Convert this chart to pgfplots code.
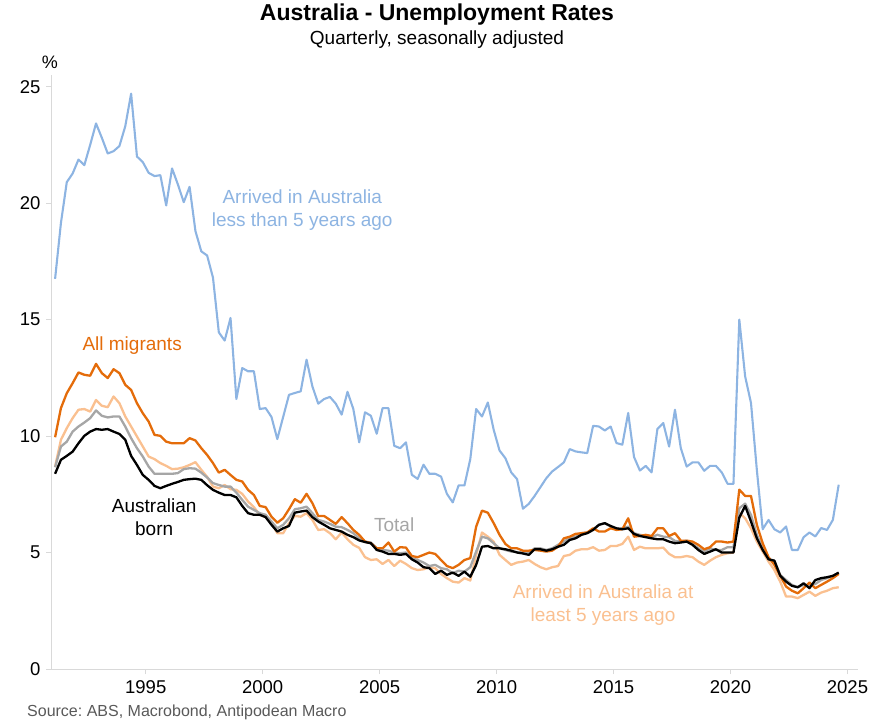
\documentclass[border=0pt]{standalone}
\usepackage{fontspec}
\setmainfont{Liberation Sans}
\usepackage{pgfplots}
\pgfplotsset{compat=1.18}
\usepackage{pgfplotstable}
\frenchspacing

\definecolor{lblue}{HTML}{8DB4E2}
\definecolor{dorange}{HTML}{E46C0A}
\definecolor{lorange}{HTML}{FAC090}
\definecolor{tgray}{HTML}{A6A6A6}
\definecolor{axgray}{HTML}{D9D9D9}
\definecolor{srcgray}{HTML}{595959}

% quarterly, seasonally adjusted unemployment rates (%)
% blue = arrived < 5 yrs ago, allm = all migrants, ge5 = arrived >= 5 yrs ago
\pgfplotstableread{
t        blue  allm  ge5   total born
1991.125 16.75 9.95  8.69  8.66  8.38
1991.375 19.15 11.2  9.84  9.55  8.98
1991.625 20.9  11.84 10.34 9.76  9.15
1991.875 21.27 12.27 10.77 10.19 9.33
1992.125 21.87 12.73 11.13 10.41 9.69
1992.375 21.63 12.63 11.16 10.58 10.01
1992.625 22.5  12.59 11.05 10.77 10.19
1992.875 23.42 13.1  11.55 11.1  10.3
1993.125 22.8  12.7  11.3  10.87 10.27
1993.375 22.13 12.49 11.24 10.8  10.3
1993.625 22.23 12.87 11.7  10.84 10.19
1993.875 22.45 12.7  11.41 10.84 10.09
1994.125 23.3  12.2  10.84 10.41 9.84
1994.375 24.7  11.98 10.41 9.91  9.15
1994.625 22.0  11.41 9.98  9.48  8.76
1994.875 21.76 10.98 9.55  9.12  8.33
1995.125 21.3  10.62 9.12  8.69  8.12
1995.375 21.16 10.05 9.01  8.38  7.86
1995.625 21.2  10.01 8.84  8.38  7.76
1995.875 19.9  9.76  8.72  8.38  7.86
1996.125 21.49 9.69  8.58  8.38  7.95
1996.375 20.8  9.69  8.6   8.41  8.03
1996.625 20.04 9.69  8.66  8.58  8.12
1996.875 20.7  9.91  8.76  8.62  8.15
1997.125 18.8  9.81  8.88  8.6   8.17
1997.375 17.93 9.48  8.55  8.43  8.12
1997.625 17.75 9.19  8.25  8.22  7.89
1997.875 16.8  8.84  7.83  7.98  7.69
1998.125 14.45 8.43  7.76  7.9   7.57
1998.375 14.1  8.55  7.9   7.83  7.47
1998.625 15.07 8.33  7.72  7.83  7.47
1998.875 11.59 8.12  7.69  7.57  7.37
1999.125 12.92 8.05  7.52  7.26  7.0
1999.375 12.78 7.69  7.19  6.97  6.69
1999.625 12.78 7.47  6.95  6.83  6.62
1999.875 11.16 7.0   6.62  6.69  6.62
2000.125 11.2  6.95  6.52  6.62  6.52
2000.375 10.82 6.54  6.26  6.33  6.19
2000.625 9.87  6.28  5.83  6.04  5.9
2000.875 10.82 6.47  5.83  6.19  6.04
2001.125 11.77 6.86  6.26  6.47  6.14
2001.375 11.85 7.29  6.57  6.86  6.71
2001.625 11.92 7.14  6.54  6.9   6.76
2001.875 13.28 7.52  6.69  6.97  6.8
2002.125 12.13 7.12  6.4   6.69  6.52
2002.375 11.39 6.57  5.97  6.4   6.33
2002.625 11.59 6.57  6.0   6.33  6.19
2002.875 11.68 6.4   5.83  6.23  6.04
2003.125 11.39 6.23  5.57  6.11  5.97
2003.375 10.92 6.52  5.86  6.09  5.9
2003.625 11.9  6.26  5.57  5.97  5.76
2003.875 11.16 5.97  5.33  5.83  5.66
2004.125 9.73  5.76  5.2   5.61  5.52
2004.375 11.02 5.47  4.8   5.47  5.45
2004.625 10.87 5.4   4.68  5.43  5.4
2004.875 10.1  5.18  4.71  5.18  5.11
2005.125 11.2  5.18  4.51  5.11  5.04
2005.375 11.2  5.43  4.68  5.08  4.94
2005.625 9.58  5.04  4.42  5.0   4.94
2005.875 9.48  5.23  4.65  4.97  4.9
2006.125 9.73  5.21  4.51  5.0   4.94
2006.375 8.34  4.85  4.33  4.76  4.71
2006.625 8.16  4.8   4.25  4.68  4.57
2006.875 8.77  4.9   4.28  4.57  4.37
2007.125 8.38  5.0   4.37  4.42  4.33
2007.375 8.38  4.94  4.33  4.47  4.08
2007.625 8.26  4.68  4.08  4.33  4.22
2007.875 7.52  4.42  3.9   4.28  4.04
2008.125 7.15  4.33  3.75  4.11  4.14
2008.375 7.88  4.47  3.71  4.22  4.0
2008.625 7.88  4.68  3.9   4.18  4.18
2008.875 9.01  4.76  3.8   4.37  3.96
2009.125 11.16 6.11  4.9   5.04  4.47
2009.375 10.84 6.8   5.86  5.68  5.25
2009.625 11.44 6.71  5.68  5.61  5.28
2009.875 10.27 6.26  5.47  5.4   5.18
2010.125 9.38  5.76  4.9   5.18  5.18
2010.375 9.05  5.37  4.68  5.11  5.14
2010.625 8.44  5.18  4.47  5.04  5.08
2010.875 8.15  5.18  4.57  5.02  5.0
2011.125 6.88  5.08  4.61  5.0   4.96
2011.375 7.09  5.08  4.68  5.0   4.9
2011.625 7.43  5.11  4.51  5.18  5.14
2011.875 7.81  5.08  4.37  5.18  5.14
2012.125 8.19  5.04  4.28  5.11  5.08
2012.375 8.48  5.08  4.37  5.18  5.14
2012.625 8.67  5.25  4.42  5.33  5.25
2012.875 8.87  5.61  4.85  5.47  5.33
2013.125 9.44  5.68  4.9   5.61  5.54
2013.375 9.34  5.8   5.08  5.68  5.61
2013.625 9.3   5.83  5.14  5.83  5.76
2013.875 9.27  5.86  5.14  5.86  5.83
2014.125 10.44 6.04  5.23  6.0   5.97
2014.375 10.41 5.9   5.08  6.19  6.19
2014.625 10.24 5.9   5.11  6.26  6.26
2014.875 10.41 6.04  5.28  6.11  6.14
2015.125 9.7   5.97  5.28  6.0   6.04
2015.375 9.63  6.0   5.37  6.04  6.0
2015.625 10.99 6.47  5.68  6.11  6.04
2015.875 9.1   5.68  5.11  5.83  5.8
2016.125 8.52  5.71  5.25  5.76  5.71
2016.375 8.72  5.76  5.18  5.71  5.66
2016.625 8.44  5.71  5.18  5.66  5.61
2016.875 10.31 6.04  5.18  5.76  5.57
2017.125 10.56 6.04  5.21  5.68  5.57
2017.375 9.55  5.71  4.94  5.66  5.47
2017.625 11.13 5.83  4.8   5.5   5.4
2017.875 9.48  5.51  4.8   5.47  5.43
2018.125 8.69  5.51  4.85  5.51  5.47
2018.375 8.87  5.47  4.8   5.37  5.33
2018.625 8.87  5.33  4.61  5.18  5.11
2018.875 8.51  5.14  4.47  5.04  4.94
2019.125 8.72  5.23  4.65  5.18  5.04
2019.375 8.72  5.47  4.8   5.11  5.14
2019.625 8.44  5.47  4.9   5.11  5.0
2019.875 7.95  5.43  4.97  5.23  5.0
2020.125 7.95  5.47  5.0   5.23  5.0
2020.375 15.0  7.7   6.7   6.9   6.5
2020.625 12.56 7.43  6.47  7.1   7.0
2020.875 11.42 7.43  6.04  6.62  6.33
2021.125 8.55  6.19  5.47  5.76  5.61
2021.375 6.0   5.4   5.04  5.18  5.11
2021.625 6.4   4.8   4.61  4.71  4.71
2021.875 6.0   4.47  4.25  4.65  4.65
2022.125 5.86  4.0   3.75  4.04  4.0
2022.375 6.12  3.54  3.11  3.82  3.75
2022.625 5.11  3.36  3.11  3.61  3.57
2022.875 5.11  3.25  3.04  3.51  3.51
2023.125 5.66  3.47  3.18  3.61  3.68
2023.375 5.86  3.71  3.32  3.61  3.47
2023.625 5.69  3.47  3.14  3.65  3.82
2023.875 6.05  3.61  3.28  3.82  3.9
2024.125 5.97  3.75  3.36  3.9   3.94
2024.375 6.4   3.9   3.47  4.0   4.0
2024.625 7.91  4.08  3.51  4.11  4.14
}\rates

\begin{document}
\begin{tikzpicture}
\useasboundingbox (-51pt,-56pt) rectangle (823pt,669pt);
\begin{axis}[
  scale only axis,
  width=807pt, height=594pt,
  xmin=1990.95, xmax=2025.45,
  ymin=0, ymax=25.5,
  axis x line=bottom, axis y line=left,
  axis line style={draw=axgray, line width=0.8pt, -},
  xtick={1995,2000,...,2025},
  ytick={0,5,...,25},
  tick align=outside,
  major tick length=5pt,
  tick style={draw=axgray, line width=0.8pt},
  x tick label style={font=\fontsize{18.5}{20}\selectfont, yshift=-3pt},
  y tick label style={font=\fontsize{18.5}{20}\selectfont, xshift=-2pt},
  /pgf/number format/assume math mode=true,
  /pgf/number format/1000 sep={},
  clip=false,
  line join=round,
]
\addplot[lblue, line width=2.1pt] table[x=t, y=blue] {\rates};
\addplot[lorange, line width=2.3pt] table[x=t, y=ge5] {\rates};
\addplot[tgray, line width=2.3pt] table[x=t, y=total] {\rates};
\addplot[dorange, line width=2.3pt] table[x=t, y=allm] {\rates};
\addplot[black, line width=2.3pt] table[x=t, y=born] {\rates};

\node[lblue, align=center, font=\fontsize{19}{23}\selectfont] at (axis cs:2001.69,19.7) {Arrived in Australia\\less than 5 years ago};
\node[dorange, font=\fontsize{19}{23}\selectfont] at (axis cs:1994.42,13.87) {All migrants};
\node[black, align=center, font=\fontsize{19}{23}\selectfont] at (axis cs:1995.36,6.53) {Australian\\born};
\node[tgray, font=\fontsize{19}{23}\selectfont] at (axis cs:2005.62,6.19) {Total};
\node[lorange, align=center, font=\fontsize{19}{23}\selectfont] at (axis cs:2014.55,2.75) {Arrived in Australia at\\least 5 years ago};
\end{axis}
\node[font=\fontsize{23}{26}\selectfont\bfseries] at (386pt,654pt) {Australia - Unemployment Rates};
\node[font=\fontsize{19}{22}\selectfont] at (386pt,629pt) {Quarterly, seasonally adjusted};
\node[font=\fontsize{18}{20}\selectfont] at (-1pt,607pt) {\%};
\node[anchor=west, inner sep=0pt, text=srcgray, font=\fontsize{16}{18}\selectfont] at (-24pt,-43pt) {Source: ABS, Macrobond, Antipodean Macro};
\end{tikzpicture}
\end{document}
